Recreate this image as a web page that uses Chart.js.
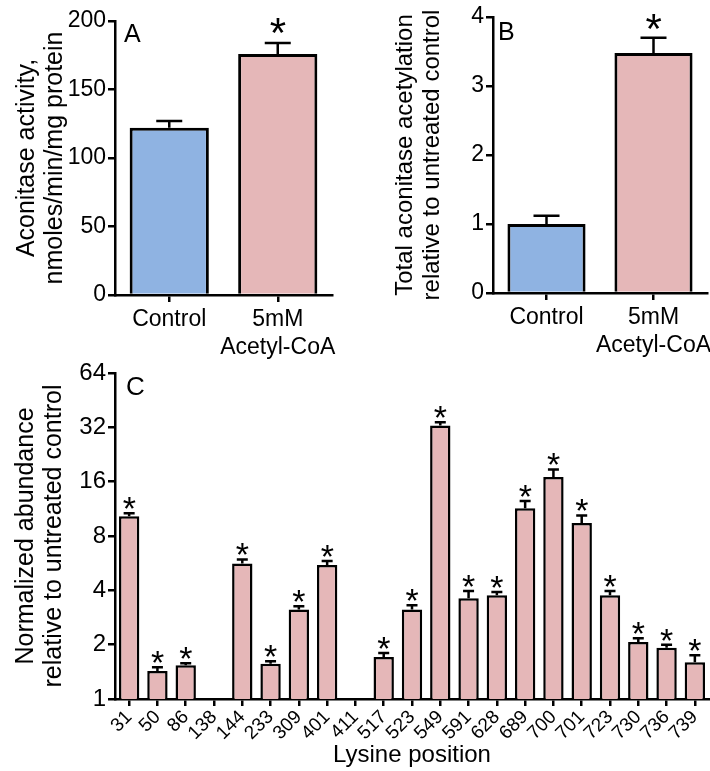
<!DOCTYPE html>
<html>
<head>
<meta charset="utf-8">
<script src="https://cdn.jsdelivr.net/npm/chart.js@4"></script>
<style>
body { margin: 0; background: #fff; width: 710px; height: 771px; position: relative; overflow: hidden; }
canvas { position: absolute; }
</style>
</head>
<body>
<canvas id="chartA" width="345" height="370" style="left:0;top:0"></canvas>
<canvas id="chartB" width="360" height="370" style="left:350px;top:0"></canvas>
<canvas id="chartC" width="710" height="431" style="left:0;top:340px"></canvas>
<script>
// panel A and B groups
const groups = ['Control', ['5mM', 'Acetyl-CoA']];
const groupColors = ['#8fb3e2', '#e5b7b8'];

const activity = [122, 176];
const activityErr = [5, 8];
const activitySig = [false, true];
const activityTicks = [0, 50, 100, 150, 200];

const acetylation = [1.0, 3.48];
const acetylationErr = [0.12, 0.22];
const acetylationSig = [false, true];
const acetylationTicks = [0, 1, 2, 3, 4];

// panel C
const lysines = ['31', '50', '86', '138', '144', '233', '309', '401', '411', '517', '523',
    '549', '591', '628', '689', '700', '701', '723', '730', '736', '739'];
const abundance = [10.3, 1.43, 1.54, null, 5.63, 1.57, 3.13, 5.52, null, 1.71, 3.13,
    32.8, 3.61, 3.76, 11.4, 17.0, 9.45, 3.76, 2.07, 1.92, 1.60];
const abundanceErr = [0.4, 0.07, 0.04, null, 0.3, 0.05, 0.14, 0.3, null, 0.09, 0.18,
    1.3, 0.35, 0.16, 1.1, 1.7, 0.95, 0.2, 0.1, 0.08, 0.15];
const abundanceSig = [true, true, true, false, true, true, true, true, false, true, true,
    true, true, true, true, true, true, true, true, true, true];
const abundanceTicks = [1, 2, 4, 8, 16, 32, 64];

const fontFamily = '"Liberation Sans", Arial, sans-serif';
Chart.defaults.font.family = fontFamily;
Chart.defaults.color = '#000';
Chart.defaults.animation = false;

function errorBars(errs, sig, opts) {
    return {
        id: 'errorBars',
        afterDatasetsDraw(chart) {
            const ctx = chart.ctx;
            const yScale = chart.scales.y;
            const values = chart.data.datasets[0].data;
            const area = chart.chartArea;
            ctx.save();
            ctx.strokeStyle = '#000';
            ctx.fillStyle = '#000';
            ctx.lineWidth = 2.5;
            chart.getDatasetMeta(0).data.forEach((bar, i) => {
                if (values[i] === null || errs[i] === null) return;
                const top = yScale.getPixelForValue(values[i] + errs[i]);
                ctx.beginPath();
                ctx.moveTo(bar.x, bar.y);
                ctx.lineTo(bar.x, top);
                ctx.moveTo(bar.x - opts.cap / 2, top);
                ctx.lineTo(bar.x + opts.cap / 2, top);
                ctx.stroke();
                if (sig[i]) {
                    ctx.font = opts.starSize + 'px ' + fontFamily;
                    ctx.textAlign = 'left';
                    ctx.textBaseline = 'alphabetic';
                    const m = ctx.measureText('*');
                    const cy = top - opts.starGap;
                    const x0 = bar.x - (m.actualBoundingBoxRight - m.actualBoundingBoxLeft) / 2;
                    const y0 = cy - (m.actualBoundingBoxDescent - m.actualBoundingBoxAscent) / 2;
                    ctx.fillText('*', x0, y0);
                }
            });
            ctx.font = opts.letterSize + 'px ' + fontFamily;
            ctx.textAlign = 'left';
            ctx.textBaseline = 'alphabetic';
            ctx.fillText(opts.letter, area.left + opts.letterDx, area.top + opts.letterDy);
            ctx.restore();
        }
    };
}

function axisLines() {
    return {
        grid: { drawOnChartArea: false, drawTicks: true, tickLength: 7, color: '#000', lineWidth: 2.5, offset: false },
        border: { display: true, color: '#000', width: 2.5 }
    };
}

function groupChart(id, values, errs, sig, tickVals, title, layout, plugOpts) {
    return new Chart(document.getElementById(id), {
        type: 'bar',
        data: {
            labels: groups,
            datasets: [{
                data: values,
                backgroundColor: groupColors,
                borderColor: '#000',
                borderWidth: 3,
                borderSkipped: 'start',
                barPercentage: 0.73,
                categoryPercentage: 1
            }]
        },
        options: {
            responsive: false,
            layout: { padding: { top: layout.top, right: layout.right, bottom: 0, left: 0 } },
            plugins: { legend: { display: false }, tooltip: { enabled: false } },
            scales: {
                x: {
                    ...axisLines(),
                    offset: true,
                    ticks: { font: { size: 23 }, padding: 4, maxRotation: 0, autoSkip: false },
                    afterFit: s => { s.height = layout.xHeight; s.paddingLeft = 0; s.paddingRight = 0; }
                },
                y: {
                    ...axisLines(),
                    min: tickVals[0],
                    max: tickVals[tickVals.length - 1],
                    afterBuildTicks: s => { s.ticks = tickVals.map(v => ({ value: v })); },
                    ticks: { font: { size: 23 }, padding: 2 },
                    title: {
                        display: true,
                        text: title,
                        font: { size: layout.titleSize, lineHeight: 1.12 },
                        padding: { top: layout.titlePad, bottom: 0 }
                    },
                    afterFit: s => { s.width = layout.yWidth; }
                }
            }
        },
        plugins: [errorBars(errs, sig, plugOpts)]
    });
}

groupChart('chartA', activity, activityErr, activitySig, activityTicks,
    ['Aconitase activity,', 'nmoles/min/mg protein'],
    { top: 21, right: 13, xHeight: 75, yWidth: 115, titlePad: 13, titleSize: 25 },
    { cap: 26, starSize: 42, starGap: 17, letter: 'A', letterSize: 25, letterDx: 9, letterDy: 21 });

groupChart('chartB', acetylation, acetylationErr, acetylationSig, acetylationTicks,
    ['Total aconitase acetylation', 'relative to untreated control'],
    { top: 17, right: 3, xHeight: 77, yWidth: 143, titlePad: 42, titleSize: 24 },
    { cap: 26, starSize: 42, starGap: 16, letter: 'B', letterSize: 25, letterDx: 5, letterDy: 23 });

new Chart(document.getElementById('chartC'), {
    type: 'bar',
    data: {
        labels: lysines,
        datasets: [{
            data: abundance,
            backgroundColor: '#e5b7b8',
            borderColor: '#000',
            borderWidth: 2.5,
            borderSkipped: 'start',
            barPercentage: 0.72,
            categoryPercentage: 1
        }]
    },
    options: {
        responsive: false,
        layout: { padding: { top: 33, right: 1, bottom: 0, left: 0 } },
        plugins: { legend: { display: false }, tooltip: { enabled: false } },
        scales: {
            x: {
                ...axisLines(),
                offset: true,
                ticks: { font: { size: 19 }, padding: 0, minRotation: 45, maxRotation: 45, autoSkip: false },
                title: { display: true, text: 'Lysine position', font: { size: 24 }, padding: { top: 0, bottom: 1 } },
                afterFit: s => { s.height = 72; s.paddingLeft = 0; s.paddingRight = 0; }
            },
            y: {
                ...axisLines(),
                type: 'logarithmic',
                min: abundanceTicks[0],
                max: abundanceTicks[abundanceTicks.length - 1],
                afterBuildTicks: s => { s.ticks = abundanceTicks.map(v => ({ value: v })); },
                ticks: { font: { size: 24 }, padding: 2, callback: v => String(v) },
                title: {
                    display: true,
                    text: ['Normalized abundance', 'relative to untreated control'],
                    font: { size: 25, lineHeight: 1.12 },
                    padding: { top: 12, bottom: 0 }
                },
                afterFit: s => { s.width = 115; }
            }
        }
    },
    plugins: [errorBars(abundanceErr, abundanceSig,
        { cap: 11, starSize: 34, starGap: 10, letter: 'C', letterSize: 26, letterDx: 11, letterDy: 22 })]
});
</script>
</body>
</html>
